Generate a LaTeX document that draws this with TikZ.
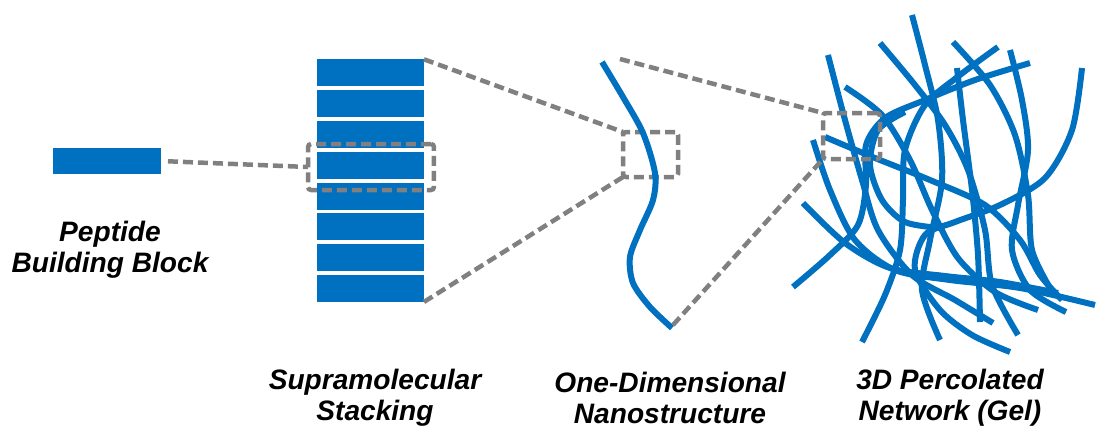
\documentclass[tikz,border=0pt]{standalone}
\usepackage{fontspec}
\setmainfont{Liberation Sans}
\definecolor{fibreblue}{RGB}{0,112,192}
\definecolor{zoomgray}{RGB}{128,128,128}

\begin{document}
\begin{tikzpicture}[
    x=0.02cm, y=-0.02cm,
    block/.style={
        rectangle,
        fill=fibreblue,
        inner sep=0pt,
        outer sep=0pt
    },
    zoombox/.style={
        rectangle,
        draw=zoomgray,
        line width=0.09cm,
        dash pattern=on 0.2cm off 0.1cm,
        rounded corners=0.06cm,
        inner sep=0pt,
        outer sep=0pt
    },
    zoomline/.style={draw=zoomgray, line width=0.09cm, dash pattern=on 0.2cm off 0.1cm},
    fibre/.style={draw=fibreblue, line width=0.12cm},
    stagetext/.style={align=center, font=\fontsize{16}{17.6}\selectfont\bfseries\itshape}
]
\useasboundingbox (0,0) rectangle (1096,427);
\fill[white] (0,0) rectangle (1096,427);

% Nodes
\node[block, minimum width=2.16cm, minimum height=0.52cm] (pep) at (107,161) {};
\foreach \i in {1,...,8}
    \node[block, minimum width=2.14cm, minimum height=0.54cm] (bar\i) at (370.5,{72.8+30.8*(\i-1)}) {};

\node[zoombox, minimum width=2.52cm, minimum height=0.92cm] (zoomA) at (371,167) {};
\node[zoombox, minimum width=1.1cm, minimum height=0.9cm] (zoomB) at (650.5,154.5) {};

% single fibre
\draw[fibre] plot[smooth] coordinates {(602,62) (623,97) (643,133) (655,173) (653,200)
    (640,230) (630,257) (633,283) (650,307) (672,328)};
\coordinate (fibtop) at (620,59);
\coordinate (fibbot) at (673,325);

% fibre network
\draw[fibre] plot[smooth] coordinates {(912,15) (925,65) (938,120) (942,180) (930,240) (922,290) (940,340)};
\draw[fibre] plot[smooth] coordinates {(880,43) (915,85) (945,125) (968,170) (985,230) (992,285) (1018,335)};
\draw[fibre] plot[smooth] coordinates {(953,42) (990,85) (1015,135) (1028,195) (1032,250) (1050,288)};
\draw[fibre] plot[smooth] coordinates {(998,47) (960,75) (925,105) (905,150) (903,200) (900,250) (885,295) (862,342)};
\draw[fibre] plot[smooth] coordinates {(1030,63) (975,80) (925,100) (885,118) (866,145) (866,185) (858,225) (830,255) (793,287)};
\draw[fibre] plot[smooth] coordinates {(1010,50) (1022,100) (1028,150) (1018,205) (1012,250) (1030,290) (1066,312)};
\draw[fibre] plot[smooth] coordinates {(957,68) (963,120) (972,190) (978,255) (980,322)};
\draw[fibre] plot[smooth] coordinates {(1082,68) (1072,130) (1045,178) (1000,205) (955,222) (925,235) (915,270) (940,310) (972,335) (1010,352)};
\draw[fibre] plot[smooth] coordinates {(828,55) (845,120) (862,180) (878,230) (912,275) (955,300) (993,323)};
\draw[fibre] plot[smooth] coordinates {(845,87) (882,115) (910,160) (932,210) (958,258) (995,292) (1038,310)};
\draw[fibre] plot[smooth] coordinates {(813,140) (830,190) (855,240) (895,270) (950,280) (1020,288) (1095,305)};
\draw[fibre] plot[smooth] coordinates {(825,137) (875,158) (930,180) (985,205) (1020,240) (1040,275) (1062,300)};
\draw[fibre] plot[smooth] coordinates {(803,203) (845,243) (890,268) (945,276) (1000,282) (1058,293)};
\draw[fibre] plot[smooth] coordinates {(905,112) (878,130) (870,165) (882,200) (905,222) (940,228)};

\node[zoombox, minimum width=1.14cm, minimum height=0.92cm] (zoomC) at (851.5,136) {};

% Labels
\node[stagetext] (pepText) at (110,250) {Peptide\\Building Block};
\node[stagetext] (stackText) at (375,398) {Supramolecular\\Stacking};
\node[stagetext] (fibText) at (670,398) {One-Dimensional\\Nanostructure};
\node[stagetext] (gelText) at (950,398) {3D Percolated\\Network (Gel)};

% Connectors
\draw[zoomline, shorten <=0.14cm] (pep.east) -- (zoomA.west);
\draw[zoomline] (bar1.north east) -- (zoomB.north west);
\draw[zoomline] (bar8.south east) -- (zoomB.south west);
\draw[zoomline] (fibtop) -- (zoomC.north west);
\draw[zoomline] (fibbot) -- (zoomC.south west);

\end{tikzpicture}
\end{document}
